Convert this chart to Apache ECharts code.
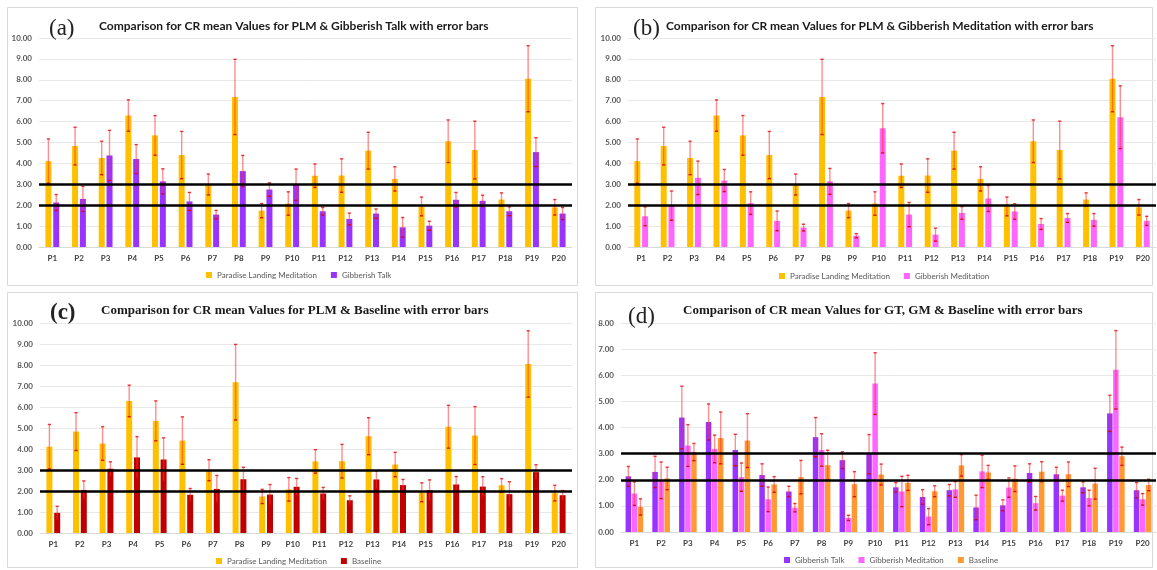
<!DOCTYPE html>
<html><head><meta charset="utf-8">
<script src="https://cdn.jsdelivr.net/npm/echarts@6/dist/echarts.min.js"></script>
<style>html,body{margin:0;padding:0;background:#fff}#c{width:1157px;height:570px}</style>
</head><body><div id="c"></div>
<script>
const categories = ['P1','P2','P3','P4','P5','P6','P7','P8','P9','P10','P11','P12','P13','P14','P15','P16','P17','P18','P19','P20'];
const plmMean = [4.11,4.83,4.26,6.29,5.34,4.40,2.99,7.18,1.74,2.08,3.41,3.42,4.61,3.26,1.94,5.06,4.64,2.27,8.05,1.90];
const plmErr  = [1.06,0.90,0.80,0.75,0.95,1.13,0.50,1.80,0.34,0.56,0.56,0.80,0.88,0.58,0.45,1.02,1.38,0.32,1.58,0.37];
const gtMean  = [2.13,2.30,4.38,4.21,3.14,2.18,1.55,3.63,2.75,2.98,1.71,1.34,1.60,0.94,1.02,2.26,2.21,1.71,4.54,1.60];
const gtErr   = [0.38,0.60,1.20,0.69,0.60,0.43,0.20,0.75,0.32,0.75,0.18,0.28,0.22,0.47,0.21,0.35,0.27,0.21,0.69,0.29];
const gmMean  = [1.47,1.98,3.31,3.18,2.10,1.25,0.93,3.14,0.54,5.68,1.55,0.59,1.63,2.32,1.70,1.10,1.39,1.30,6.21,1.25];
const gmErr   = [0.45,0.70,0.80,0.53,0.54,0.47,0.16,0.62,0.10,1.18,0.58,0.31,0.30,0.62,0.37,0.26,0.21,0.30,1.50,0.22];
const blMean  = [0.96,2.05,3.06,3.60,3.50,1.82,2.10,2.56,1.83,2.20,1.88,1.56,2.55,2.28,2.04,2.31,2.21,1.85,2.90,1.80];
const blErr   = [0.31,0.43,0.33,0.99,1.03,0.30,0.64,0.57,0.48,0.40,0.29,0.21,0.41,0.27,0.49,0.38,0.47,0.59,0.35,0.22];
const thresholds = [2, 3];
const yMaxABC = 10, yMaxD = 8;

const C_PLM = '#FFC000', C_GT = '#9933FF', C_GM = '#FF66FF', C_BL = '#C00000', C_BL2 = '#FF9933';
const SANS = 'Lato, "Open Sans", sans-serif';
const SERIF = '"Liberation Serif", "DejaVu Serif", serif';

const grids = [
  {left:39, top:38, width:533, height:209},
  {left:628, top:38, width:528, height:209},
  {left:40, top:323, width:532, height:210},
  {left:621, top:323, width:535, height:209}
];
const xAxes = grids.map((g,i)=>({
  type:'category', gridIndex:i, data:categories,
  axisLine:{lineStyle:{color:'#d9d9d9'}}, axisTick:{show:false},
  axisLabel:{fontFamily:SANS, fontSize:8, fontWeight:'bold', color:'#404040', margin:7, interval:0}
}));
const yAxes = grids.map((g,i)=>({
  type:'value', gridIndex:i, min:0, max: i===3 ? yMaxD : yMaxABC, interval:1,
  axisLine:{show:false}, axisTick:{show:false},
  splitLine:{lineStyle:{color:'#e8e8e8'}},
  axisLabel:{fontFamily:SANS, fontSize:8, fontWeight:'bold', color:'#595959', margin:7,
    formatter:v=>v.toFixed(2)}
}));

function bar(name, data, color, gi, bw, gap){
  return {type:'bar', name, data, xAxisIndex:gi, yAxisIndex:gi, barWidth:bw, barGap:gap,
    itemStyle:{color}, z:2, silent:true};
}
function err(mean, e, gi, offset, withLines){
  const s = {type:'custom', xAxisIndex:gi, yAxisIndex:gi, z:3, silent:true,
    data: mean.map((m,i)=>[i, m, e[i]]),
    encode:{x:0, y:1},
    renderItem:(params, api)=>{
      const i = api.value(0), m = api.value(1), d = api.value(2);
      const pt = api.coord([i, m + d]), pb = api.coord([i, m - d]);
      const x = pt[0] + offset;
      return {type:'group', children:[
        {type:'line', shape:{x1:x,y1:pt[1],x2:x,y2:pb[1]}, style:{stroke:'rgba(255,50,50,0.55)', lineWidth:1.4}},
        {type:'line', shape:{x1:x-1.6,y1:pt[1],x2:x+1.6,y2:pt[1]}, style:{stroke:'rgba(235,20,20,0.85)', lineWidth:1.4}},
        {type:'line', shape:{x1:x-1.6,y1:pb[1],x2:x+1.6,y2:pb[1]}, style:{stroke:'rgba(220,0,0,0.9)', lineWidth:1.4}}
      ]};
    }
  };
  if (withLines){
    s.markLine = {silent:true, symbol:['none','none'], label:{show:false}, z:5,
      lineStyle:{color:'#000', width:2.5, type:'solid'},
      emphasis:{disabled:true},
      data: thresholds.map(t=>({yAxis:t}))};
  }
  return s;
}
const w2 = 6, g2 = '30%', off2 = (6 + 1.8) / 2;
const w3 = 5.5, g3 = '10%', off3 = 5.5 + 0.55;

const series = [
  bar('Paradise Landing Meditation', plmMean, C_PLM, 0, w2, g2),
  bar('Gibberish Talk', gtMean, C_GT, 0, w2, g2),
  err(plmMean, plmErr, 0, -off2, false),
  err(gtMean, gtErr, 0, off2, true),
  bar('Paradise Landing Meditation', plmMean, C_PLM, 1, w2, g2),
  bar('Gibberish Meditation', gmMean, C_GM, 1, w2, g2),
  err(plmMean, plmErr, 1, -off2, false),
  err(gmMean, gmErr, 1, off2, true),
  bar('Paradise Landing Meditation', plmMean, C_PLM, 2, w2, g2),
  bar('Baseline', blMean, C_BL, 2, w2, g2),
  err(plmMean, plmErr, 2, -off2, false),
  err(blMean, blErr, 2, off2, true),
  bar('Gibberish Talk', gtMean, C_GT, 3, w3, g3),
  bar('Gibberish Meditation', gmMean, C_GM, 3, w3, g3),
  bar('Baseline', blMean, C_BL2, 3, w3, g3),
  err(gtMean, gtErr, 3, -off3, false),
  err(gmMean, gmErr, 3, 0, false),
  err(blMean, blErr, 3, off3, true)
];

const legText = {fontFamily:SANS, fontSize:8, color:'#595959'};
function leg(items, cx, top){
  return {left:cx, top, icon:'rect', itemWidth:6, itemHeight:6, itemGap:14, textStyle:legText,
    selectedMode:false, data: items.map(([n,c])=>({name:n, itemStyle:{color:c}}))};
}

const titles = [
  {text:'(a)', left:44, top:12, textStyle:{fontFamily:SERIF, fontSize:23, fontWeight:'normal', color:'#222'}},
  {text:'Comparison for CR mean Values for PLM & Gibberish Talk with error bars', left:94, top:15,
    textStyle:{fontFamily:SANS, fontSize:12, fontWeight:'bold', color:'#1a1a1a'}},
  {text:'(b)', left:628, top:12, textStyle:{fontFamily:SERIF, fontSize:23, fontWeight:'normal', color:'#222'}},
  {text:'Comparison for CR mean Values for PLM & Gibberish Meditation with error bars', left:661, top:15,
    textStyle:{fontFamily:SANS, fontSize:12, fontWeight:'bold', color:'#1a1a1a'}},
  {text:'(c)', left:45, top:297, textStyle:{fontFamily:SERIF, fontSize:23, fontWeight:'bold', color:'#222'}},
  {text:'Comparison for CR mean Values for PLM & Baseline with error bars', left:96, top:299,
    textStyle:{fontFamily:SERIF, fontSize:13, fontWeight:'bold', color:'#1a1a1a'}},
  {text:'(d)', left:623, top:300, textStyle:{fontFamily:SERIF, fontSize:23, fontWeight:'normal', color:'#222'}},
  {text:'Comparison of CR mean Values for GT, GM & Baseline with error bars', left:678, top:299,
    textStyle:{fontFamily:SERIF, fontSize:13, fontWeight:'bold', color:'#1a1a1a'}}
];

const legends = [
  leg([['Paradise Landing Meditation',C_PLM],['Gibberish Talk',C_GT]], 201, 266),
  leg([['Paradise Landing Meditation',C_PLM],['Gibberish Meditation',C_GM]], 774, 267),
  leg([['Paradise Landing Meditation',C_PLM],['Baseline',C_BL]], 211, 552),
  leg([['Gibberish Talk',C_GT],['Gibberish Meditation',C_GM],['Baseline',C_BL2]], 779, 551)
];

const frame = (x,y,w,h)=>({type:'rect', shape:{x,y,width:w,height:h}, silent:true, z:-10,
  style:{fill:'#fff', stroke:'#d9d9d9', lineWidth:1}});

const chart = echarts.init(document.getElementById('c'), null, {renderer:'canvas'});
chart.setOption({
  animation:false,
  backgroundColor:'#fff',
  graphic:[frame(7.5,7.5,570,278), frame(595.5,7.5,557,278), frame(7.5,292.5,570,275), frame(595.5,292.5,557,275)],
  title:titles, legend:legends, grid:grids, xAxis:xAxes, yAxis:yAxes, series
});
</script></body></html>
